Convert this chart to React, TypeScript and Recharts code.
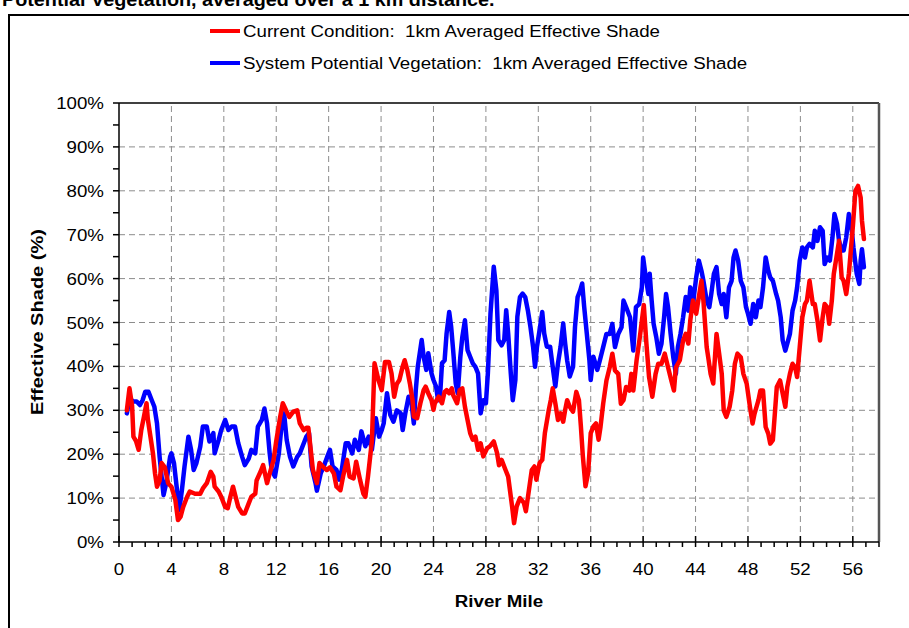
import { LineChart, Line, XAxis, YAxis, ReferenceLine } from "recharts";

const FONT = '"Liberation Sans", Arial, sans-serif';

// [river mile, effective shade %]
const currentCondition: [number, number][] = [
  [0.6, 30], [0.8, 35], [1.0, 31], [1.1, 24], [1.3, 23], [1.5, 21], [1.7, 25.5], [1.9, 28.5],
  [2.1, 31.6], [2.2, 28], [2.4, 24], [2.6, 20], [2.75, 15.6], [2.9, 12.6], [3.1, 14], [3.25, 18],
  [3.5, 17], [3.75, 13.4], [4.0, 12.6], [4.3, 9.6], [4.5, 5], [4.7, 5.8], [4.9, 8], [5.2, 10.3],
  [5.4, 11.5], [5.8, 11], [6.2, 11], [6.4, 12.2], [6.7, 13.4], [7.0, 16], [7.2, 14.9], [7.3, 12.6],
  [7.6, 11.5], [7.8, 10.3], [8.1, 8], [8.3, 7.7], [8.5, 10.3], [8.7, 12.6], [8.9, 10.3], [9.1, 8],
  [9.4, 6.5], [9.6, 6.5], [9.9, 8.8], [10.1, 10.3], [10.4, 11], [10.5, 14], [10.8, 16], [11.0, 17.5],
  [11.3, 13.4], [11.5, 15.6], [11.8, 18.7], [12.0, 23], [12.3, 28.5], [12.5, 31.6], [12.8, 29.7],
  [13.0, 28.5], [13.3, 29.7], [13.6, 30], [13.8, 27], [14.1, 25.5], [14.3, 26], [14.45, 26],
  [14.8, 16.4], [15.1, 13.4], [15.3, 18], [15.6, 17], [15.85, 16.4], [16.1, 17], [16.4, 15.6],
  [16.6, 12.6], [16.9, 11.8], [17.1, 14.9], [17.4, 18.7], [17.6, 14.9], [17.9, 14.5], [18.1, 18.3],
  [18.4, 14.1], [18.65, 11], [18.8, 10.3], [19.0, 14.9], [19.3, 23], [19.5, 40.7], [19.8, 36.9],
  [20.05, 34.6], [20.3, 41], [20.6, 41], [20.8, 38.4], [21.0, 33.1], [21.2, 36], [21.4, 36.9],
  [21.65, 40], [21.8, 41.4], [22.0, 39.2], [22.2, 36.1], [22.4, 32.3], [22.5, 28.6], [22.75, 28.2],
  [23.0, 31.6], [23.25, 34.6], [23.4, 35.4], [23.6, 33.9], [23.85, 32.3], [24.0, 30.1], [24.1, 31.6],
  [24.4, 33.1], [24.65, 31.6], [24.85, 34.2], [25.0, 34.6], [25.2, 33.9], [25.4, 35], [25.5, 33.5],
  [25.8, 31.6], [26.0, 34.6], [26.2, 35], [26.4, 30.8], [26.6, 27.8], [26.8, 24.8], [27.0, 23.3],
  [27.2, 24], [27.4, 21], [27.6, 22.5], [27.8, 19.5], [28.1, 21.4], [28.3, 21.8], [28.6, 22.9],
  [28.85, 20.3], [29.0, 17.5], [29.2, 18.7], [29.5, 16.4], [29.7, 14.9], [30.0, 8.1], [30.15, 4.3],
  [30.35, 8.1], [30.6, 10], [30.9, 8.9], [31.05, 7], [31.25, 11.1], [31.5, 16.4], [31.7, 17.2],
  [31.85, 14.2], [32.1, 18], [32.3, 18.7], [32.5, 24.8], [32.8, 30.1], [32.95, 32.3], [33.1, 35],
  [33.3, 31.6], [33.5, 27.8], [33.7, 29.3], [33.9, 27.4], [34.05, 30.1], [34.2, 32.3], [34.4, 30.8],
  [34.65, 29.7], [34.9, 34.2], [35.1, 32.3], [35.25, 26.3], [35.4, 19.5], [35.6, 12.7], [35.8, 15.7],
  [36.0, 24.8], [36.2, 26.3], [36.4, 27], [36.6, 23.3], [36.75, 26.3], [36.95, 31.5], [37.2, 36.8],
  [37.45, 39.8], [37.65, 42.9], [37.85, 39.1], [38.1, 38.3], [38.3, 31.5], [38.5, 32.3], [38.7, 35.3],
  [38.95, 34.5], [39.1, 38.3], [39.25, 34.5], [39.5, 41.4], [39.75, 46.7], [40.05, 54], [40.25, 45.2],
  [40.45, 37.6], [40.7, 33.1], [40.95, 38.3], [41.15, 40.6], [41.4, 40.6], [41.65, 42.9], [41.9, 39.8],
  [42.15, 36.8], [42.35, 34.5], [42.5, 39.8], [42.8, 41.4], [43.05, 45.9], [43.25, 47.4], [43.45, 45.2],
  [43.6, 50.5], [43.8, 55], [44.05, 52], [44.25, 55.8], [44.45, 59.5], [44.6, 55], [44.85, 44.4],
  [45.0, 41.4], [45.15, 38.3], [45.35, 36.1], [45.6, 47.4], [45.8, 42.9], [46.0, 38.3], [46.15, 30],
  [46.35, 28.5], [46.6, 30.8], [46.8, 34.5], [47.0, 40.6], [47.2, 42.9], [47.45, 42.1], [47.65, 38.3],
  [47.9, 36.1], [48.15, 30.8], [48.35, 27], [48.5, 29.2], [48.8, 32.3], [48.95, 34.5], [49.15, 34.5],
  [49.35, 26.2], [49.55, 24.7], [49.7, 22.4], [49.9, 23.2], [50.05, 29.2], [50.2, 35.3], [50.45, 36.8],
  [50.65, 33.8], [50.85, 30.8], [51.0, 35.3], [51.2, 38.3], [51.4, 40.6], [51.6, 39.8], [51.75, 37.6],
  [51.95, 44.4], [52.15, 51.2], [52.35, 54.2], [52.5, 55], [52.7, 59.5], [52.95, 54.2], [53.1, 54.2],
  [53.3, 50.5], [53.5, 45.9], [53.7, 51.2], [53.85, 54.2], [54.05, 53.5], [54.2, 49.7], [54.4, 55],
  [54.55, 61.1], [54.75, 64.8], [54.95, 68.6], [55.15, 60.3], [55.3, 59.5], [55.5, 56.5], [55.7, 61.1],
  [55.85, 66.4], [56.0, 71.7], [56.2, 80], [56.4, 81.1], [56.6, 78.5], [56.7, 73.2], [56.85, 69],
];

const systemPotential: [number, number][] = [
  [0.6, 29.3], [0.8, 32.7], [1.1, 32], [1.35, 32], [1.6, 31.2], [1.8, 32.3], [2.0, 34.2], [2.25, 34.2],
  [2.5, 32.3], [2.7, 30.8], [2.9, 27], [3.1, 19.4], [3.25, 14.9], [3.4, 10.7], [3.6, 13.4], [3.9, 19.4],
  [4.0, 20.2], [4.2, 17.9], [4.4, 12.6], [4.6, 7.3], [4.8, 11.8], [5.0, 17.2], [5.3, 24], [5.5, 21],
  [5.7, 16.4], [5.9, 17.9], [6.2, 21.7], [6.4, 26.3], [6.7, 26.3], [6.9, 22.9], [7.2, 24.8], [7.3, 20.2],
  [7.6, 23.2], [7.8, 25.5], [8.1, 27.8], [8.35, 25.5], [8.6, 26.3], [8.85, 26.3], [9.1, 22.5], [9.4, 19.4],
  [9.6, 17.5], [9.9, 19], [10.1, 21], [10.4, 20.2], [10.6, 26.3], [10.9, 27.8], [11.1, 30.4], [11.3, 27],
  [11.5, 20.2], [11.65, 16.4], [11.9, 14.9], [12.2, 20.2], [12.4, 26.3], [12.6, 29.3], [12.8, 23.2],
  [13.05, 19.4], [13.3, 17.2], [13.6, 19.4], [13.8, 20.2], [14.1, 22.5], [14.3, 24], [14.5, 24.8],
  [14.7, 17.2], [15.0, 13.4], [15.1, 11.7], [15.4, 15.7], [15.6, 17], [15.9, 19.5], [16.1, 21],
  [16.3, 17.2], [16.6, 16.4], [16.8, 14.2], [17.0, 16.4], [17.3, 22.5], [17.5, 22.5], [17.8, 20.2],
  [18.0, 23.3], [18.3, 21], [18.5, 25.2], [18.8, 21.8], [19.05, 24], [19.3, 21], [19.6, 28.2],
  [19.85, 24], [20.05, 25.5], [20.2, 27], [20.45, 33.9], [20.7, 29], [20.95, 27.4], [21.2, 30],
  [21.5, 29.3], [21.65, 25.5], [21.85, 29.3], [22.1, 33.1], [22.3, 32.3], [22.5, 27], [22.65, 34.6],
  [22.8, 39.9], [23.1, 46], [23.25, 42.2], [23.45, 39.2], [23.6, 43], [23.85, 38.4], [24.0, 36.9],
  [24.2, 35.4], [24.35, 32.3], [24.5, 33.1], [24.65, 40.7], [24.85, 41.4], [25.0, 47.5], [25.2, 52.4],
  [25.35, 49], [25.5, 43.7], [25.7, 36.1], [25.85, 33.9], [26.05, 42.2], [26.2, 46.7], [26.4, 50.5],
  [26.6, 43.7], [26.8, 42.2], [27.0, 40.7], [27.2, 39.9], [27.4, 38.4], [27.6, 29.3], [27.8, 32.3],
  [28.0, 31.6], [28.15, 38.4], [28.35, 52], [28.6, 62.7], [28.8, 57.3], [28.95, 46], [29.2, 44.8],
  [29.4, 46], [29.55, 52.8], [29.7, 47.5], [29.9, 38.4], [30.05, 32.3], [30.25, 36.9], [30.4, 51.3],
  [30.6, 55.8], [30.8, 56.6], [31.0, 55.8], [31.2, 52.8], [31.4, 49], [31.6, 44.5], [31.75, 39.9],
  [31.9, 44.5], [32.1, 48.3], [32.3, 52.4], [32.45, 47.5], [32.65, 44.5], [32.9, 44.5], [33.1, 39.9],
  [33.3, 35.4], [33.5, 40.7], [33.7, 44.5], [33.9, 49.8], [34.05, 45.2], [34.2, 41.4], [34.4, 37.7],
  [34.65, 39.9], [34.8, 49], [35.0, 55.8], [35.2, 57.3], [35.35, 58.9], [35.5, 53.6], [35.7, 47.5],
  [35.9, 41.4], [36.0, 36.9], [36.2, 42.2], [36.5, 39.2], [36.7, 41.4], [36.95, 44.4], [37.2, 47.4],
  [37.45, 47.4], [37.65, 49.7], [37.85, 44.4], [38.1, 47.4], [38.35, 48.9], [38.5, 55], [38.7, 53.5],
  [39.0, 51.2], [39.25, 43.6], [39.45, 53.5], [39.7, 54.2], [39.9, 58], [40.0, 64.8], [40.2, 60.3],
  [40.4, 56.5], [40.5, 61.1], [40.65, 55], [40.8, 49.7], [41.0, 46.7], [41.2, 42.9], [41.4, 45.2],
  [41.6, 51.2], [41.75, 56.5], [41.9, 53.5], [42.1, 47.4], [42.3, 42.1], [42.5, 38.3], [42.65, 44.4],
  [42.85, 47.4], [43.05, 51.2], [43.25, 55.8], [43.45, 52.7], [43.6, 58], [43.8, 54.2], [44.05, 60.3],
  [44.25, 64.1], [44.45, 61.8], [44.6, 59.5], [44.85, 55], [45.05, 53.5], [45.2, 56.5], [45.4, 61.1],
  [45.6, 62.6], [45.8, 56.5], [46.0, 54.2], [46.15, 56.5], [46.35, 51.2], [46.55, 58], [46.75, 59.5],
  [46.9, 64.8], [47.05, 66.4], [47.25, 64.1], [47.45, 59.5], [47.65, 58], [47.85, 53.5], [48.0, 52],
  [48.2, 49.7], [48.4, 54.2], [48.6, 51.2], [48.8, 55], [48.95, 53.5], [49.15, 58], [49.35, 64.8],
  [49.55, 61.8], [49.7, 60.3], [49.9, 59.5], [50.15, 56.5], [50.3, 55], [50.5, 51.2], [50.65, 45.9],
  [50.85, 43.6], [51.0, 45.2], [51.2, 47.4], [51.4, 52.7], [51.6, 55], [51.75, 58], [51.95, 64.1],
  [52.15, 67.1], [52.35, 64.8], [52.5, 67.1], [52.7, 67.9], [52.95, 67.1], [53.1, 70.9], [53.3, 68.6],
  [53.5, 71.7], [53.7, 70.9], [53.85, 63.3], [54.05, 64.8], [54.25, 64.1], [54.45, 69.4], [54.6, 74.7],
  [54.8, 72.4], [54.95, 68.6], [55.15, 66.4], [55.3, 66.4], [55.5, 69.4], [55.7, 74.7], [55.9, 71.7],
  [56.05, 67.1], [56.3, 61.1], [56.5, 58.8], [56.6, 64.1], [56.7, 66.7], [56.85, 62.6],
];

const xTicks = Array.from({ length: 59 }, (_, i) => i); // minor tick every mile, 0..58
const xGrid = [4, 8, 12, 16, 20, 24, 28, 32, 36, 40, 44, 48, 52, 56];
const yTicks = [0, 5, 10, 15, 20, 25, 30, 35, 40, 45, 50, 55, 60, 65, 70, 75, 80, 85, 90, 95, 100];
const yGrid = [10, 20, 30, 40, 50, 60, 70, 80, 90];

const currentData = currentCondition.map(([mile, shade]) => ({ mile, shade }));
const potentialData = systemPotential.map(([mile, shade]) => ({ mile, shade }));

const XTick = ({ x, y, payload }: any) => {
  const v = payload.value;
  const major = v % 4 === 0;
  return (
    <g>
      <line x1={x} x2={x} y1={major ? y - 6 : y} y2={y + 5} stroke="#000" strokeWidth={1.5} />
      {major && v <= 56 && (
        <text
          transform={`translate(${x},${y + 33}) scale(1.1,1)`}
          textAnchor="middle"
          fontSize={17}
          fontFamily={FONT}
          fill="#000"
        >
          {v}
        </text>
      )}
    </g>
  );
};

const YTick = ({ x, y, payload }: any) => {
  const v = payload.value;
  return (
    <g>
      <line x1={x - 6} x2={x} y1={y} y2={y} stroke="#000" strokeWidth={1.5} />
      {v % 10 === 0 && (
        <text
          transform={`translate(${x - 15},${y + 6}) scale(1.1,1)`}
          textAnchor="end"
          fontSize={17}
          fontFamily={FONT}
          fill="#000"
        >
          {v}%
        </text>
      )}
    </g>
  );
};

export default function App() {
  return (
    <div
      style={{
        position: "absolute",
        left: 0,
        top: 0,
        width: 909,
        height: 628,
        overflow: "hidden",
        background: "#fff",
      }}
    >
      {/* chart area frame, runs off the right and bottom of the picture */}
      <div
        style={{
          position: "absolute",
          left: 8,
          top: 14,
          width: 1000,
          height: 700,
          borderLeft: "2px solid #000",
          borderTop: "2px solid #000",
        }}
      />

      <div style={{ position: "absolute", left: 0, top: 0 }}>
        <LineChart width={909} height={628} margin={{ top: 103, right: 30, bottom: 0, left: 8 }}>
          <XAxis
            dataKey="mile"
            type="number"
            domain={[0, 58]}
            ticks={xTicks}
            interval={0}
            height={86}
            tickSize={0}
            tickMargin={0}
            tick={<XTick />}
            tickLine={false}
            axisLine={{ stroke: "#000", strokeWidth: 1.5 }}
            allowDataOverflow
          />
          <YAxis
            type="number"
            domain={[0, 100]}
            ticks={yTicks}
            interval={0}
            width={111}
            tickSize={0}
            tickMargin={0}
            tick={<YTick />}
            tickLine={false}
            axisLine={{ stroke: "#000", strokeWidth: 1.5 }}
          />

          {xGrid.map((m) => (
            <ReferenceLine key={`vx${m}`} x={m} stroke="#8c8c8c" strokeWidth={1} strokeDasharray="6 4" />
          ))}
          {yGrid.map((s) => (
            <ReferenceLine key={`hy${s}`} y={s} stroke="#8c8c8c" strokeWidth={1} strokeDasharray="6 4" />
          ))}
          <ReferenceLine y={100} stroke="#000" strokeWidth={1.5} />
          <ReferenceLine x={58} stroke="#555" strokeWidth={2.5} />

          <Line
            data={potentialData}
            dataKey="shade"
            type="linear"
            stroke="#0000FF"
            strokeWidth={4.5}
            strokeLinejoin="round"
            strokeLinecap="round"
            dot={false}
            isAnimationActive={false}
          />
          <Line
            data={currentData}
            dataKey="shade"
            type="linear"
            stroke="#FF0000"
            strokeWidth={4.5}
            strokeLinejoin="round"
            strokeLinecap="round"
            dot={false}
            isAnimationActive={false}
          />
        </LineChart>
      </div>

      <svg
        width={909}
        height={628}
        style={{ position: "absolute", left: 0, top: 0, pointerEvents: "none" }}
        fontFamily={FONT}
      >
        {/* chart title, cut off by the top edge as in the source */}
        <text transform="translate(2,6) scale(1.1,1)" fontSize={18} fontWeight="bold" fill="#000">
          Potential Vegetation, averaged over a 1 km distance.
        </text>

        <line x1={210} x2={240} y1={31} y2={31} stroke="#FF0000" strokeWidth={4} />
        <text transform="translate(243,37) scale(1.1,1)" fontSize={17} fill="#000" style={{ whiteSpace: "pre" }}>
          {"Current Condition:  1km Averaged Effective Shade"}
        </text>
        <line x1={210} x2={240} y1={63} y2={63} stroke="#0000FF" strokeWidth={4} />
        <text transform="translate(243,69) scale(1.1,1)" fontSize={17} fill="#000" style={{ whiteSpace: "pre" }}>
          {"System Potential Vegetation:  1km Averaged Effective Shade"}
        </text>

        <text transform="translate(499,607) scale(1.1,1)" textAnchor="middle" fontSize={17} fontWeight="bold" fill="#000">
          River Mile
        </text>
        <text
          transform="translate(43,322) rotate(-90) scale(1.18,1)"
          textAnchor="middle"
          fontSize={17}
          fontWeight="bold"
          fill="#000"
        >
          Effective Shade (%)
        </text>
      </svg>
    </div>
  );
}
